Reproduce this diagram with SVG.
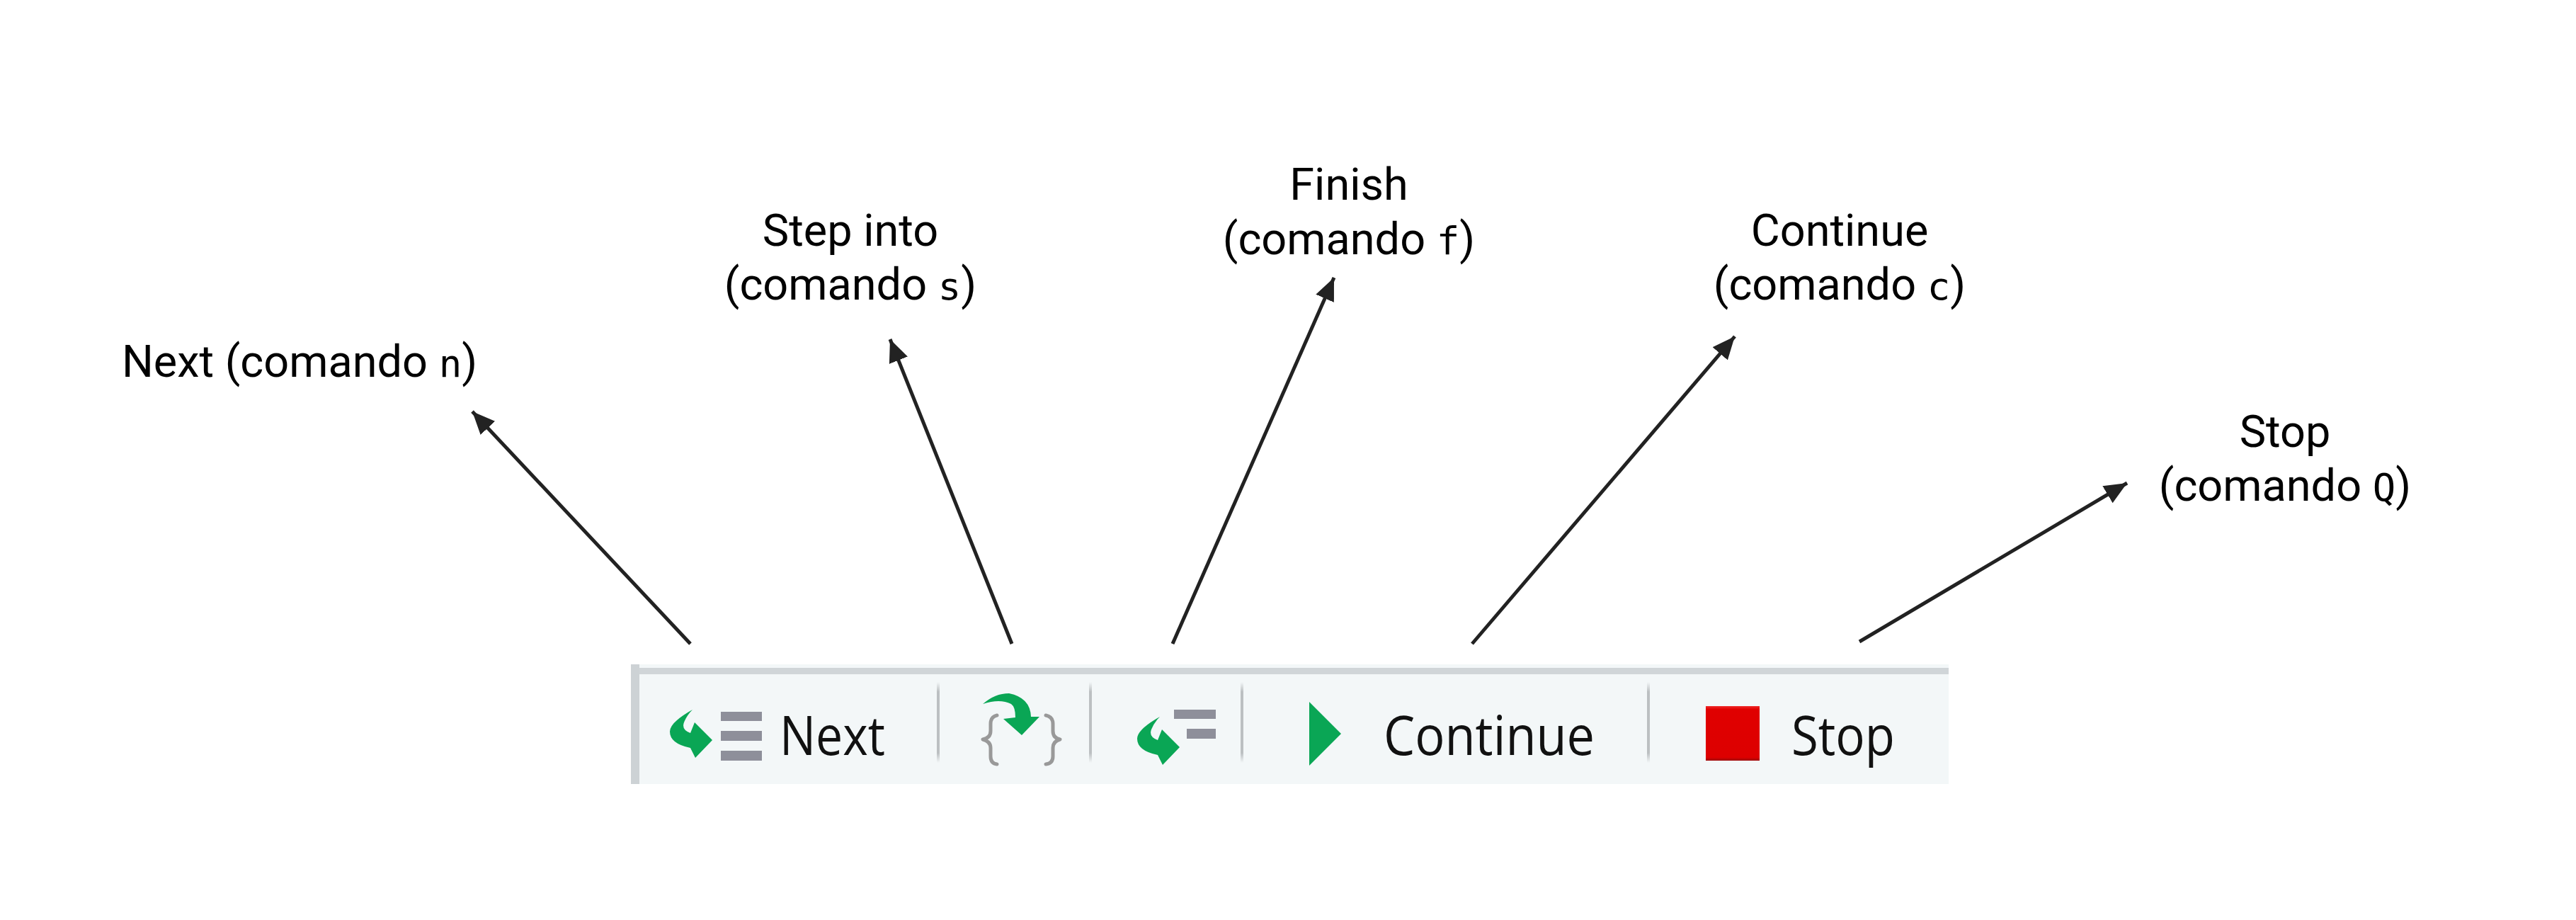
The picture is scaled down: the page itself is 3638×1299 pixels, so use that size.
<svg xmlns="http://www.w3.org/2000/svg" xmlns:xlink="http://www.w3.org/1999/xlink" width="3638" height="1299" viewBox="0 0 3638 1299">
<style>
.lbl{font-family:Roboto,"Liberation Sans",sans-serif;font-size:63px;fill:#000;text-anchor:middle}
.mono{font-family:"DejaVu Sans Mono","Liberation Mono",monospace;font-size:54px}
.tb{font-family:"Open Sans","Noto Sans",sans-serif;font-size:76px;fill:#111}
.con{fill:none;stroke:#222;stroke-width:5;marker-end:url(#ah)}
.bar{fill:#8e8f9a}
.green{fill:#0aa655}
.sep{fill:url(#sepg)}
.brace{fill:none;stroke:#999;stroke-width:5;stroke-linecap:round;stroke-linejoin:round}
</style>
<defs>
<marker id="ah" markerUnits="userSpaceOnUse" markerWidth="34" markerHeight="30" refX="32" refY="14" orient="auto"><path d="M0 0L32 14L0 28Z" fill="#222"/></marker>
<linearGradient id="sepg" x1="0" y1="0" x2="0" y2="1"><stop offset="0" stop-color="#bcc0c2" stop-opacity="0"/><stop offset=".12" stop-color="#bcc0c2"/><stop offset=".88" stop-color="#bcc0c2"/><stop offset="1" stop-color="#bcc0c2" stop-opacity="0"/></linearGradient>
<linearGradient id="redg" x1="0" y1="0" x2="0" y2="1"><stop offset="0" stop-color="#f02a2a"/><stop offset=".06" stop-color="#e00000"/><stop offset=".94" stop-color="#dd0000"/><stop offset="1" stop-color="#9c0a0a"/></linearGradient>
<path id="ga" d="M978 1002Q946 1020 946 1033Q946 1050 975 1056L982 1070L1006 1045L981 1020L975 1035Q962 1030 966 1020Q970 1010 978 1002Z"/>
</defs>
<rect width="3638" height="1299" fill="#fff"/>
<g id="toolbar">
<rect x="891" y="938" width="1861" height="169" fill="#f3f7f8"/>
<rect x="891" y="943" width="1861" height="9" fill="#d0d5d8"/>
<rect x="891" y="938" width="12" height="169" fill="#cdd2d5"/>
<rect class="sep" x="1323" y="963" width="4" height="114"/>
<rect class="sep" x="1538" y="963" width="4" height="114"/>
<rect class="sep" x="1752" y="963" width="4" height="114"/>
<rect class="sep" x="2326" y="963" width="4" height="114"/>
</g>
<g id="next-btn">
<use xlink:href="#ga" href="#ga" class="green"/>
<rect class="bar" x="1018" y="1005" width="58" height="13"/>
<rect class="bar" x="1018" y="1032" width="58" height="14"/>
<rect class="bar" x="1018" y="1060" width="58" height="14"/>
<text class="tb" x="1101" y="1066" textLength="149" lengthAdjust="spacingAndGlyphs">Next</text>
</g>
<g id="step-btn">
<path class="brace" d="M1408 1010Q1399 1012 1399 1022V1032Q1399 1042 1388 1044Q1399 1047 1399 1056V1068Q1399 1078 1408 1079"/>
<path class="brace" d="M1477 1010Q1487 1012 1487 1022V1032Q1487 1042 1497 1044Q1487 1047 1487 1056V1068Q1487 1078 1477 1079"/>
<path class="green" d="M1388 994Q1405 979 1425 979Q1455 985 1456 1012H1468L1443 1038L1417 1015L1434 1013Q1434 998 1428 994Q1412 986 1388 994Z"/>
</g>
<g id="finish-btn">
<use xlink:href="#ga" href="#ga" class="green" transform="translate(660 10)"/>
<rect class="bar" x="1658" y="1002" width="59" height="13"/>
<rect class="bar" x="1676" y="1029" width="41" height="14"/>
</g>
<g id="continue-btn">
<path class="green" d="M1849 991L1894 1036L1849 1081Z"/>
<text class="tb" x="1954" y="1066" textLength="298" lengthAdjust="spacingAndGlyphs">Continue</text>
</g>
<g id="stop-btn">
<rect x="2409" y="997" width="76" height="77" fill="url(#redg)"/>
<text class="tb" x="2530" y="1066" textLength="146" lengthAdjust="spacingAndGlyphs">Stop</text>
</g>
<g id="connectors">
<line class="con" x1="975" y1="909" x2="667" y2="581"/>
<line class="con" x1="1429" y1="909" x2="1257" y2="479"/>
<line class="con" x1="1656" y1="909" x2="1884" y2="392"/>
<line class="con" x1="2079" y1="909" x2="2450" y2="475"/>
<line class="con" x1="2626" y1="906" x2="3004" y2="682"/>
</g>
<g id="label-next"><text class="lbl" x="423" y="532">Next (comando <tspan class="mono">n</tspan>)</text></g>
<g id="label-step"><text class="lbl" x="1201" y="347">Step into</text><text class="lbl" x="1201" y="423">(comando <tspan class="mono">s</tspan>)</text></g>
<g id="label-finish"><text class="lbl" x="1905" y="282">Finish</text><text class="lbl" x="1905" y="359">(comando <tspan class="mono">f</tspan>)</text></g>
<g id="label-continue"><text class="lbl" x="2598" y="347">Continue</text><text class="lbl" x="2598" y="423">(comando <tspan class="mono">c</tspan>)</text></g>
<g id="label-stop"><text class="lbl" x="3227" y="631">Stop</text><text class="lbl" x="3227" y="707">(comando <tspan class="mono">Q</tspan>)</text></g>
</svg>
